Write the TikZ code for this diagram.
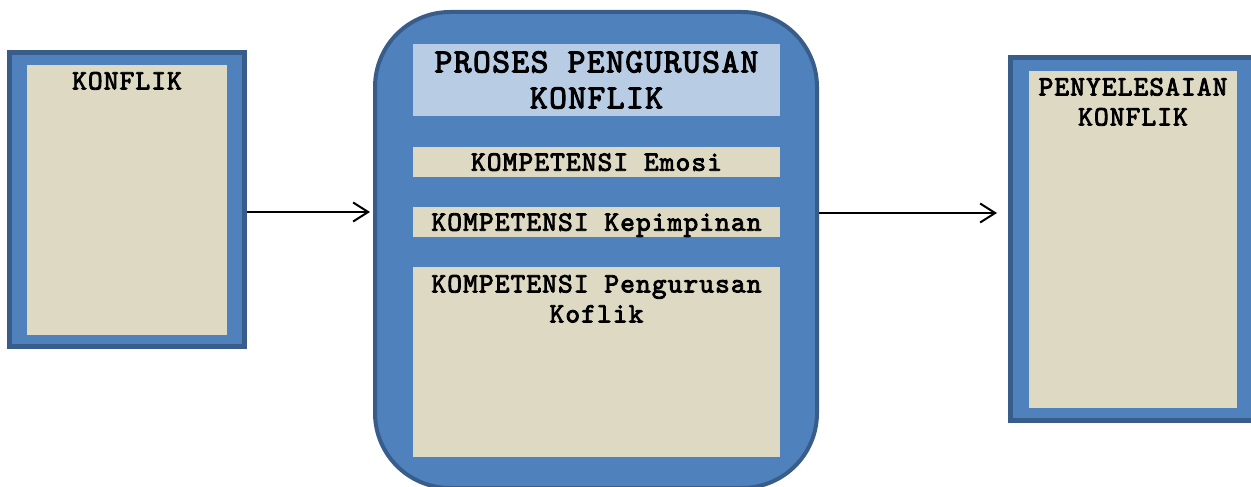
\documentclass[tikz,border=0pt]{standalone}
\usepackage{fontspec}
\newfontfamily\courfont{lmmono10-regular.otf}[FakeBold=3,LetterSpace=4]
\usetikzlibrary{positioning,arrows.meta}
\definecolor{BoxBlue}{HTML}{4F81BD}
\definecolor{BoxEdge}{HTML}{385D8A}
\definecolor{BoxBeige}{HTML}{DDD9C3}
\definecolor{TitleBlue}{HTML}{B8CCE4}
\newcommand{\bodyfont}{\courfont\fontsize{28}{30}\selectfont}
\newcommand{\titlefont}{\courfont\fontsize{34}{36}\selectfont}
\tikzset{
  outerbox/.style={draw=BoxEdge, fill=BoxBlue, line width=5pt, inner sep=0pt},
  innerbox/.style={fill=BoxBeige, inner sep=0pt},
  titlebox/.style={fill=TitleBlue, inner sep=0pt, align=center, font=\titlefont},
  boxtext/.style={inner sep=0pt, align=center, font=\bodyfont},
  flow/.style={-{Straight Barb[length=15pt,width=19pt]}, line width=2pt}
}

\begin{document}
\begin{tikzpicture}[x=1pt,y=-1pt]
\path[use as bounding box] (0,0) rectangle (1251,487);
\clip (0,0) rectangle (1251,487);

%%Konflik
\node[outerbox, minimum width=235pt, minimum height=294pt] (konflikouter) at (127,199.5) {};
\node[innerbox, minimum width=200pt, minimum height=270pt] (konflikin) at (127,200) {};
\node[boxtext, below=7pt of konflikin.north] (konfliktext) {KONFLIK};

%%Proses pengurusan
\node[outerbox, line width=4pt, rounded corners=75pt, minimum width=442pt, minimum height=476pt] (prosesouter) at (596,250) {};
\node[titlebox, minimum width=367pt, minimum height=72pt] (proses) at (596.5,80) {PROSES PENGURUSAN\\KONFLIK};
\node[innerbox, boxtext, minimum width=367pt, minimum height=30pt, text depth=0pt] (emosi) at (596.5,162) {KOMPETENSI Emosi};
\node[innerbox, boxtext, minimum width=367pt, minimum height=30pt, text depth=0pt] (kepimpinan) at (596.5,222) {KOMPETENSI Kepimpinan};
\node[innerbox, minimum width=367pt, minimum height=190pt] (pengurusan) at (596.5,362) {};
\node[boxtext, below=8pt of pengurusan.north] (pengurusantext) {KOMPETENSI Pengurusan\\Koflik};

%%Penyelesaian
\node[outerbox, minimum width=245pt, minimum height=363pt] (selesaiouter) at (1133,239) {};
\node[innerbox, minimum width=208pt, minimum height=337pt] (selesaiin) at (1133,239.5) {};
\node[boxtext, below=7pt of selesaiin.north] (selesaitext) {PENYELESAIAN\\KONFLIK};

\draw[flow, shorten >=3pt] (konflikouter.east |- 0,212) -- (prosesouter.west |- 0,212);
\draw[flow, shorten >=11pt] (prosesouter.east |- 0,213) -- (selesaiouter.west |- 0,213);

\end{tikzpicture}
\end{document}
